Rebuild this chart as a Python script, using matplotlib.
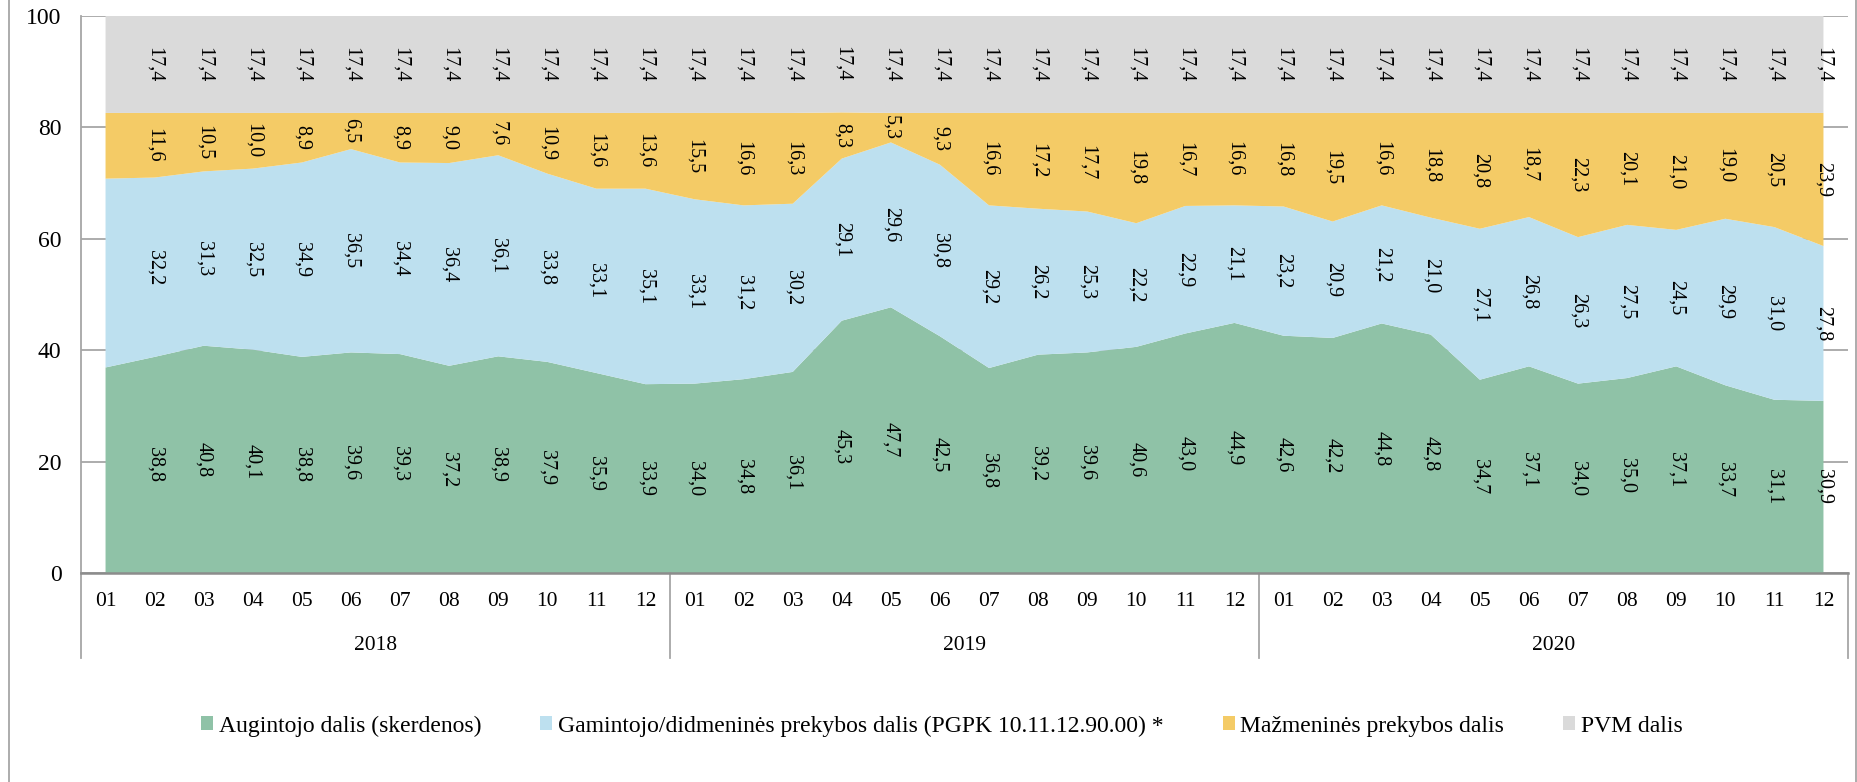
import matplotlib
matplotlib.use('Agg')
import matplotlib.pyplot as plt
from matplotlib.lines import Line2D
from matplotlib.patches import Patch
import numpy as np

plt.rcParams['font.family'] = ['Liberation Serif', 'DejaVu Serif']

# months 2018-01 .. 2020-12
months = ['01', '02', '03', '04', '05', '06', '07', '08', '09', '10', '11', '12'] * 3
years = ['2018', '2019', '2020']

# Augintojo dalis (skerdenos)
grower = [36.9, 38.8, 40.8, 40.1, 38.8, 39.6, 39.3, 37.2, 38.9, 37.9, 35.9, 33.9,
          34.0, 34.8, 36.1, 45.3, 47.7, 42.5, 36.8, 39.2, 39.6, 40.6, 43.0, 44.9,
          42.6, 42.2, 44.8, 42.8, 34.7, 37.1, 34.0, 35.0, 37.1, 33.7, 31.1, 30.9]
# Gamintojo/didmeninės prekybos dalis
producer = [33.9, 32.2, 31.3, 32.5, 34.9, 36.5, 34.4, 36.4, 36.1, 33.8, 33.1, 35.1,
            33.1, 31.2, 30.2, 29.1, 29.6, 30.8, 29.2, 26.2, 25.3, 22.2, 22.9, 21.1,
            23.2, 20.9, 21.2, 21.0, 27.1, 26.8, 26.3, 27.5, 24.5, 29.9, 31.0, 27.8]
# Mažmeninės prekybos dalis
retail = [11.8, 11.6, 10.5, 10.0, 8.9, 6.5, 8.9, 9.0, 7.6, 10.9, 13.6, 13.6,
          15.5, 16.6, 16.3, 8.3, 5.3, 9.3, 16.6, 17.2, 17.7, 19.8, 16.7, 16.6,
          16.8, 19.5, 16.6, 18.8, 20.8, 18.7, 22.3, 20.1, 21.0, 19.0, 20.5, 23.9]
# PVM dalis
vat = [17.4] * 36

series_names = ['Augintojo dalis (skerdenos)',
                'Gamintojo/didmeninės prekybos dalis (PGPK 10.11.12.90.00) *',
                'Mažmeninės prekybos dalis',
                'PVM dalis']
colors = ['#8FC2A7', '#BDE0EF', '#F4CB66', '#DADADA']

W, H = 1858, 782
fig = plt.figure(figsize=(W / 100, H / 100), dpi=100)
ax = fig.add_axes([81 / W, 1 - 573 / H, (1848 - 81) / W, (573 - 16) / H])

x = np.arange(len(months))
data = [grower, producer, retail, vat]
ax.stackplot(x, *data, colors=colors, linewidth=0, zorder=2)

ax.set_xlim(-0.5, len(months) - 0.5)
ax.set_ylim(0, 100)
ax.set_yticks(range(0, 101, 20))
ax.yaxis.grid(True, color='#A6A6A6', lw=1.3, zorder=0)
ax.set_axisbelow(True)
ax.tick_params(axis='y', length=0, pad=14, labelsize=17)
ax.set_xticks(x)
ax.set_xticklabels(months)
ax.tick_params(axis='x', length=0, pad=14, labelsize=15.5)

for s in ['top', 'right']:
    ax.spines[s].set_visible(False)
ax.spines['left'].set_color('#A6A6A6')
ax.spines['left'].set_linewidth(1.3)
ax.spines['bottom'].set_color('#8C8C8C')
ax.spines['bottom'].set_linewidth(1.8)
ax.spines['bottom'].set_zorder(5)

# data labels, centred in each band; the first point has none in the source
bottom = np.zeros(len(months))
for vals in data:
    vals = np.array(vals)
    for j in range(1, len(months)):
        ax.text(x[j], bottom[j] + vals[j] / 2, f'{vals[j]:.1f}'.replace('.', ','),
                rotation=270, ha='center', va='center', fontsize=14.5, zorder=4)
    bottom += vals

# two-level category axis: year separators and year names
trans = ax.get_xaxis_transform()
span = 573 - 16
for k in range(len(years) + 1):
    xs = k * 12 - 0.5
    ax.add_line(Line2D([xs, xs], [0, -(658 - 573) / span], transform=trans,
                       color='#A6A6A6', lw=1.3, clip_on=False))
for k, yr in enumerate(years):
    ax.text(k * 12 + 5.5, -(645 - 573) / span, yr, transform=trans,
            ha='center', va='center', fontsize=15.5)

handles = [Patch(facecolor=c, edgecolor='none') for c in colors]
fig.legend(handles, series_names, loc='center', bbox_to_anchor=(0.507, 1 - 726 / H),
           ncol=4, frameon=False, fontsize=17, handlelength=0.5, handleheight=0.5,
           handletextpad=0.25, columnspacing=2.5)

# chart-area border (left and right edges visible in the source)
for xb in [9 / W, 1856 / W]:
    fig.add_artist(Line2D([xb, xb], [0, 1], transform=fig.transFigure,
                          color='#A6A6A6', lw=1.3))

fig.savefig('out.png', dpi=100)
